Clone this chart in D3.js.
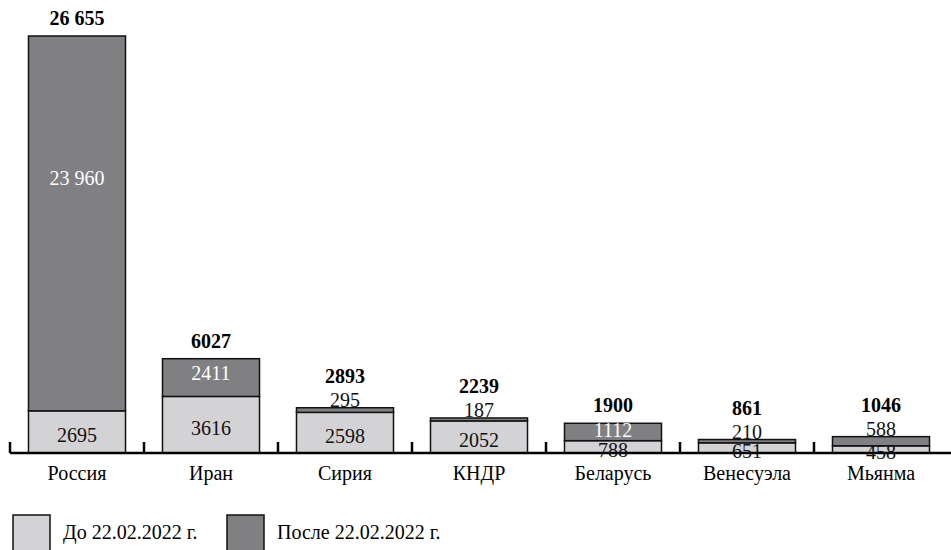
<!DOCTYPE html>
<html>
<head>
<meta charset="utf-8">
<script src="https://cdn.jsdelivr.net/npm/d3@7"></script>
<style>
  body { margin: 0; background: #fff; }
</style>
</head>
<body>
<script>
// данные
let countries = ["Россия", "Иран", "Сирия", "КНДР", "Беларусь", "Венесуэла", "Мьянма"];
let before = [2695, 3616, 2598, 2052, 788, 651, 458];
let after = [23960, 2411, 295, 187, 1112, 210, 588];
let totals = [26655, 6027, 2893, 2239, 1900, 861, 1046];
let seriesNames = ["До 22.02.2022 г.", "После 22.02.2022 г."];
let colors = ["#d3d3d5", "#808083"];

let width = 951, height = 550,
    base = 453, plotTop = 36;

let svg = d3.select("body").append("svg")
    .attr("width", width)
    .attr("height", height)
    .style("font-family", "'Liberation Serif'");

let x = d3.scaleBand()
    .domain(countries)
    .range([10, 948])
    .paddingInner(0.276)
    .paddingOuter(0.138);

let y = d3.scaleLinear()
    .domain([0, d3.max(totals)])
    .range([base, plotTop]);

let data = countries.map(function(c, i) {
  return {name: c, before: before[i], after: after[i], total: totals[i]};
});

let stack = d3.stack().keys(["before", "after"]);
let layers = stack(data);

// bars
svg.selectAll(".layer")
  .data(layers)
  .enter().append("g")
  .attr("class", "layer")
  .attr("fill", function(d, i) { return colors[i]; })
  .selectAll("rect")
  .data(function(d) { return d; })
  .enter().append("rect")
  .attr("x", function(d) { return x(d.data.name); })
  .attr("width", x.bandwidth())
  .attr("y", function(d) { return y(d[1]); })
  .attr("height", function(d) { return y(d[0]) - y(d[1]); })
  .attr("stroke", "#111")
  .attr("stroke-width", 1.5);

// axis line + ticks on band boundaries
svg.append("line")
  .attr("x1", x.range()[0]).attr("x2", width)
  .attr("y1", base).attr("y2", base)
  .attr("stroke", "#000").attr("stroke-width", 2.5);

svg.selectAll(".tick")
  .data(countries)
  .enter().append("line")
  .attr("class", "tick")
  .attr("x1", function(d) { return x(d) - x.step() * x.paddingInner() / 2; })
  .attr("x2", function(d) { return x(d) - x.step() * x.paddingInner() / 2; })
  .attr("y1", base - 11).attr("y2", base)
  .attr("stroke", "#000").attr("stroke-width", 2.5);

// category labels
svg.selectAll(".cat")
  .data(countries)
  .enter().append("text")
  .attr("class", "cat")
  .attr("x", function(d) { return x(d) + x.bandwidth() / 2; })
  .attr("y", base + 27)
  .attr("text-anchor", "middle")
  .attr("font-size", 20)
  .style("font-family", "'Liberation Serif'")
  .text(function(d) { return d; });

function fmt(v) {
  return v >= 10000 ? d3.format(",")(v).replace(",", " ") : String(v);
}

// labels of lower segment
svg.selectAll(".lb")
  .data(layers[0])
  .enter().append("text")
  .attr("x", function(d) { return x(d.data.name) + x.bandwidth() / 2; })
  .attr("y", function(d) { return (y(d[0]) + y(d[1])) / 2 + 10; })
  .attr("text-anchor", "middle")
  .attr("font-size", 20)
  .attr("fill", "#111")
  .style("font-family", "'Liberation Serif'")
  .text(function(d) { return fmt(d.data.before); });

// labels of upper segment: inside if big enough, otherwise above bar
function small(d) { return y(d[0]) - y(d[1]) < 12; }

svg.selectAll(".la")
  .data(layers[1])
  .enter().append("text")
  .attr("x", function(d) { return x(d.data.name) + x.bandwidth() / 2; })
  .attr("y", function(d) {
    if (small(d)) return y(d[1]) - 1;
    return y(d[0] + (d[1] - d[0]) * 0.62) + 7;
  })
  .attr("text-anchor", "middle")
  .attr("font-size", 20)
  .attr("fill", function(d) { return small(d) ? "#111" : "#fff"; })
  .style("font-family", "'Liberation Serif'")
  .text(function(d) { return fmt(d.data.after); });

// totals
svg.selectAll(".tot")
  .data(layers[1])
  .enter().append("text")
  .attr("x", function(d) { return x(d.data.name) + x.bandwidth() / 2; })
  .attr("y", function(d) { return y(d[1]) - (small(d) ? 25 : 11); })
  .attr("text-anchor", "middle")
  .attr("font-size", 20)
  .attr("font-weight", "bold")
  .style("font-family", "'Liberation Serif'")
  .text(function(d) { return fmt(d.data.total); });

// legend
let legendX = [13, 227];
let lg = svg.selectAll(".legend")
  .data(seriesNames)
  .enter().append("g")
  .attr("class", "legend")
  .attr("transform", function(d, i) { return "translate(" + legendX[i] + ",515)"; });

lg.append("rect")
  .attr("width", 37).attr("height", 37)
  .attr("fill", function(d, i) { return colors[i]; })
  .attr("stroke", "#111").attr("stroke-width", 1.5);

lg.append("text")
  .attr("x", 50).attr("y", 24)
  .attr("font-size", 20)
  .style("font-family", "'Liberation Serif'")
  .text(function(d) { return d; });
</script>
</body>
</html>
